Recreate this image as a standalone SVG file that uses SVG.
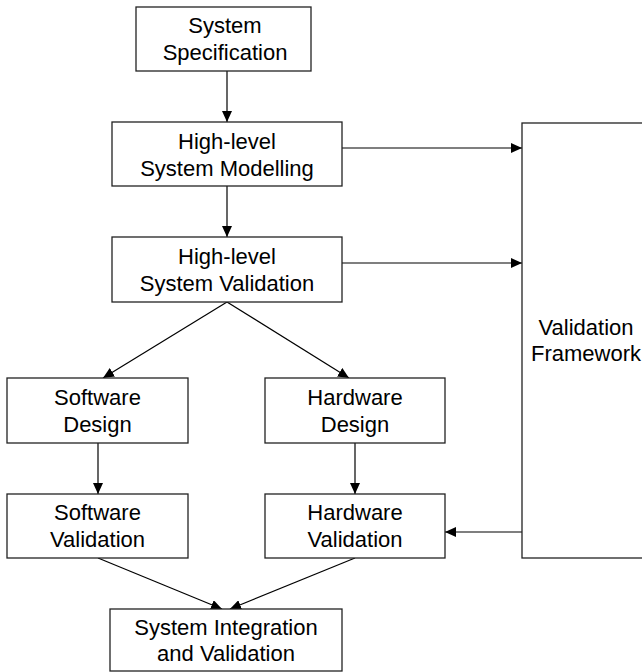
<svg xmlns="http://www.w3.org/2000/svg" width="642" height="672" viewBox="0 0 642 672">
<style>
.box{fill:#fff;stroke:#222;stroke-width:1.3}
.t{font-family:"Liberation Sans",Arial,sans-serif;font-size:22px;fill:#000;text-anchor:middle}
.c{fill:none;stroke:#000;stroke-width:1.2}
</style>
<defs>
<marker id="ah" markerUnits="userSpaceOnUse" markerWidth="12" markerHeight="10" refX="11" refY="5" orient="auto">
<path d="M0,0 L11,5 L0,10 Z" fill="#000"/>
</marker>
</defs>
<rect width="642" height="672" fill="#fff"/>
<g id="connectors">
<line class="c" x1="227" y1="71" x2="227" y2="122" marker-end="url(#ah)"/>
<line class="c" x1="227" y1="186" x2="227" y2="237" marker-end="url(#ah)"/>
<line class="c" x1="342" y1="148" x2="522" y2="148" marker-end="url(#ah)"/>
<line class="c" x1="342" y1="263" x2="522" y2="263" marker-end="url(#ah)"/>
<line class="c" x1="227" y1="302" x2="103" y2="378" marker-end="url(#ah)"/>
<line class="c" x1="227" y1="302" x2="349" y2="378" marker-end="url(#ah)"/>
<line class="c" x1="98" y1="443" x2="98" y2="494" marker-end="url(#ah)"/>
<line class="c" x1="355" y1="443" x2="355" y2="494" marker-end="url(#ah)"/>
<line class="c" x1="522" y1="532" x2="445" y2="532" marker-end="url(#ah)"/>
<line class="c" x1="98" y1="558" x2="222" y2="609" marker-end="url(#ah)"/>
<line class="c" x1="355" y1="558" x2="230" y2="609" marker-end="url(#ah)"/>
</g>
<g id="spec">
<rect class="box" x="136" y="7" width="175" height="64"/>
<text class="t" x="225" y="33">System</text>
<text class="t" x="225" y="60">Specification</text>
</g>
<g id="hlm">
<rect class="box" x="112" y="122" width="230" height="64"/>
<text class="t" x="227" y="149">High-level</text>
<text class="t" x="227" y="176">System Modelling</text>
</g>
<g id="hlv">
<rect class="box" x="112" y="237" width="230" height="65"/>
<text class="t" x="227" y="264">High-level</text>
<text class="t" x="227" y="291">System Validation</text>
</g>
<g id="sd">
<rect class="box" x="7" y="378" width="181" height="65"/>
<text class="t" x="97.5" y="405">Software</text>
<text class="t" x="97.5" y="432">Design</text>
</g>
<g id="hd">
<rect class="box" x="265" y="378" width="180" height="65"/>
<text class="t" x="355" y="405">Hardware</text>
<text class="t" x="355" y="432">Design</text>
</g>
<g id="sv">
<rect class="box" x="7" y="494" width="181" height="64"/>
<text class="t" x="97.5" y="520">Software</text>
<text class="t" x="97.5" y="547">Validation</text>
</g>
<g id="hv">
<rect class="box" x="265" y="494" width="180" height="64"/>
<text class="t" x="355" y="520">Hardware</text>
<text class="t" x="355" y="547">Validation</text>
</g>
<g id="si">
<rect class="box" x="110" y="609" width="232" height="62"/>
<text class="t" x="226" y="635">System Integration</text>
<text class="t" x="226" y="661">and Validation</text>
</g>
<g id="vf">
<rect class="box" x="522" y="123" width="128" height="435"/>
<text class="t" x="586" y="335">Validation</text>
<text class="t" x="586" y="361">Framework</text>
</g>
</svg>
